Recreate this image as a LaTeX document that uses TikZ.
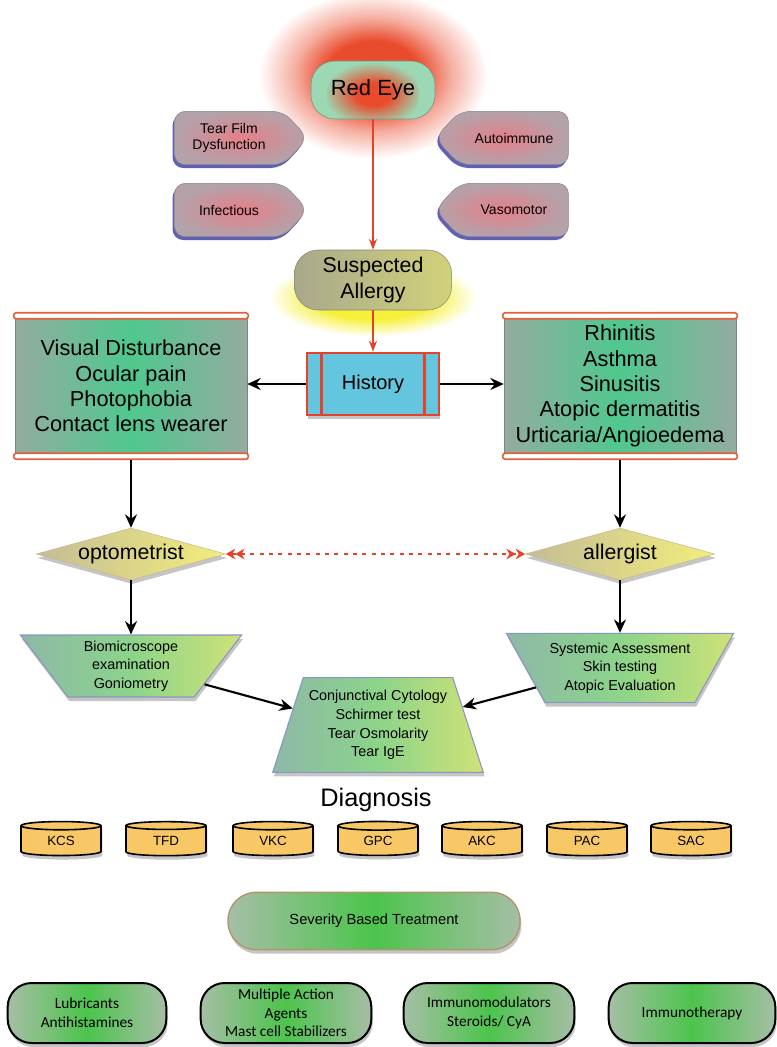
\documentclass[tikz,border=0pt]{standalone}
\usepackage{fontspec}
\setmainfont{Liberation Sans}
\newfontfamily\pillfont{Carlito}
\usetikzlibrary{shapes.geometric, shapes.symbols, shadows, arrows.meta}
\definecolor{mintgreen}{HTML}{9CD8B4}
\definecolor{redglow}{HTML}{E94B2C}
\definecolor{signalpink}{HTML}{E57F88}
\definecolor{signalgray}{HTML}{B4A2AA}
\definecolor{shadowblue}{HTML}{2B2BA0}
\definecolor{suspleft}{HTML}{A8A88C}
\definecolor{suspright}{HTML}{D2D27A}
\definecolor{yellowglow}{HTML}{F6F03A}
\definecolor{histcyan}{HTML}{63C6DE}
\definecolor{histred}{HTML}{E2432A}
\definecolor{boxgreen}{HTML}{4FC88E}
\definecolor{boxedge}{HTML}{94ABA0}
\definecolor{barred}{HTML}{E0603A}
\definecolor{dialeft}{HTML}{C4BC96}
\definecolor{diaright}{HTML}{F2EE7C}
\definecolor{diaedge}{HTML}{C8B890}
\definecolor{trapleft}{HTML}{8DB8A8}
\definecolor{trapmid}{HTML}{8CD48A}
\definecolor{trapright}{HTML}{CFE277}
\definecolor{trapedge}{HTML}{8A96C2}
\definecolor{cylorange}{HTML}{F8C766}
\definecolor{pillgreen}{HTML}{4CC44C}
\definecolor{pilledge}{HTML}{A6BEA6}
\definecolor{sevborder}{HTML}{B0946A}
\pgfdeclareradialshading{redhalo}{\pgfpoint{0bp}{0bp}}{color(0bp)=(redglow); color(9bp)=(redglow); color(15bp)=(redglow!45!white); color(22bp)=(white); color(25bp)=(white); color(50bp)=(white)}
\pgfdeclareradialshading{yellowhalo}{\pgfpoint{0bp}{0bp}}{color(0bp)=(yellowglow); color(12bp)=(yellowglow); color(22bp)=(white); color(25bp)=(white); color(50bp)=(white)}
\pgfdeclareradialshading{redblob}{\pgfpoint{0bp}{0bp}}{color(0bp)=(redglow); color(7bp)=(redglow); color(20bp)=(mintgreen); color(25bp)=(mintgreen); color(50bp)=(mintgreen)}

\begin{document}
\begin{tikzpicture}[x=0.75pt, y=-0.75pt, every node/.style={align=center},
  softshadow/.style={drop shadow={opacity=0.45, shadow xshift=1pt, shadow yshift=-3pt}},
  redeyebox/.style={rectangle, rounded corners=18pt, draw=mintgreen!70!black, fill=mintgreen, minimum width=93pt, minimum height=43.5pt, font=\fontsize{16.5}{20}\selectfont,
    path picture={\shade[shading=redblob] ([yshift=-3pt]path picture bounding box.center) ellipse (46 and 40);}},
  signalbox/.style={signal, signal pointer angle=95, draw=signalgray!80!black, inner color=signalpink, outer color=signalgray, minimum width=100pt, minimum height=40pt, rounded corners=8pt, font=\fontsize{10.5}{12.5}\selectfont,
    drop shadow={fill=shadowblue, opacity=0.75, shadow xshift=-1.5pt, shadow yshift=-2.5pt}},
  suspectbox/.style={rectangle, rounded corners=18pt, draw=suspleft!80!black, left color=suspleft, right color=suspright, minimum width=118pt, minimum height=45pt, font=\fontsize{16}{19.5}\selectfont},
  historybox/.style={rectangle, draw=histred, line width=2.2pt, fill=histcyan, minimum width=99pt, minimum height=46.5pt, font=\fontsize{15}{18}\selectfont, softshadow},
  sidebox/.style={rectangle, draw=boxedge!80!black, left color=boxedge, right color=boxedge, middle color=boxgreen, minimum width=174pt, minimum height=105pt, font=\fontsize{16.3}{19}\selectfont, softshadow},
  barbox/.style={rectangle, draw=barred, fill=white, line width=1.2pt, rounded corners=2pt, minimum width=176pt, minimum height=4.5pt, inner sep=0pt},
  rolediamond/.style={diamond, aspect=3.65, draw=diaedge, left color=dialeft, right color=diaright, minimum width=142pt, minimum height=39pt, inner sep=0pt, font=\fontsize{16}{18}\selectfont, softshadow},
  trapbox/.style={trapezium, trapezium stretches=true, draw=trapedge, line width=0.8pt, left color=trapleft, right color=trapright, middle color=trapmid, font=\fontsize{10.8}{14}\selectfont, softshadow},
  diagcyl/.style={cylinder, shape border rotate=90, aspect=0.3, draw=black, line width=1.2pt, fill=cylorange, minimum width=60pt, minimum height=25.5pt, inner sep=0pt, font=\fontsize{10}{12}\selectfont, softshadow},
  severitybox/.style={rectangle, rounded corners=21pt, draw=sevborder, line width=1pt, left color=pilledge, right color=pilledge, middle color=pillgreen, minimum width=219pt, minimum height=43pt, font=\fontsize{11}{13}\selectfont, softshadow},
  treatpill/.style={rectangle, rounded corners=18pt, draw=black, line width=1.5pt, left color=pilledge, right color=pilledge, middle color=pillgreen, minimum height=45pt, font=\pillfont\fontsize{11.5}{14}\selectfont, softshadow},
  redarrow/.style={draw=histred, line width=2pt, -{Stealth[length=8pt, width=6pt]}},
  blackarrow/.style={line width=1.6pt, -{Stealth[length=10pt, width=9pt]}},
  dotarrow/.style={draw=histred, line width=1.6pt, dash pattern=on 3pt off 4pt, {Stealth[length=7pt, width=8pt] Stealth[length=7pt, width=8pt]}-{Stealth[length=7pt, width=8pt] Stealth[length=7pt, width=8pt]}}]
\useasboundingbox (0,0) rectangle (776,1047);
\fill[white] (0,0) rectangle (776,1047);

% Glows
\shade[shading=redhalo] (373,75) ellipse (130 and 95);
\shade[shading=yellowhalo] (373,298) ellipse (118 and 44);

% Red eye and its causes
\node[redeyebox] (redeye) at (373,90) {Red Eye};
\node[signalbox, signal to=east] (tearfilm) at (229,138) {Tear Film\\Dysfunction};
\node[signalbox, signal to=east] (infect) at (229,210) {Infectious};
\node[signalbox, signal to=west] (autoimm) at (514,138) {Autoimmune};
\node[signalbox, signal to=west] (vasomot) at (514,210) {Vasomotor};

% Suspected allergy and history
\node[suspectbox] (suspect) at (373,280) {Suspected\\Allergy};
\node[historybox] (history) at (373,384) {History};
\draw[histred, line width=2pt] ([xshift=12pt]history.north west) -- ([xshift=12pt]history.south west);
\draw[histred, line width=2pt] ([xshift=-12pt]history.north east) -- ([xshift=-12pt]history.south east);

% Symptom boxes
\node[sidebox] (visual) at (131,386) {Visual Disturbance\\Ocular pain\\Photophobia\\Contact lens wearer};
\node[barbox] (visualtop) at (visual.north) {};
\node[barbox] (visualbot) at (visual.south) {};
\node[sidebox] (atopy) at (620,386) {Rhinitis\\Asthma\\Sinusitis\\Atopic dermatitis\\Urticaria/Angioedema};
\node[barbox] (atopytop) at (atopy.north) {};
\node[barbox] (atopybot) at (atopy.south) {};

% Specialists
\node[rolediamond] (optom) at (131,554) {optometrist};
\node[rolediamond] (allerg) at (620,554) {allergist};

% Examinations
\node[trapbox, shape border rotate=180, trapezium angle=57, minimum width=166pt, minimum height=46.5pt] (biomicro) at (131,666) {Biomicroscope\\examination\\Goniometry};
\node[trapbox, shape border rotate=180, trapezium angle=57, minimum width=161pt, minimum height=52pt] (sysassess) at (620,668) {Systemic Assessment\\Skin testing\\Atopic Evaluation};
\node[trapbox, trapezium angle=69, minimum width=158pt, minimum height=71pt] (conjcyto) at (378,725) {Conjunctival Cytology\\Schirmer test\\Tear Osmolarity\\Tear IgE};

% Diagnosis
\node[font=\fontsize{19}{22}\selectfont] (diagnosis) at (376,800) {Diagnosis};
\foreach \x/\lab/\nm in {61/KCS/kcs, 166/TFD/tfd, 273/VKC/vkc, 378/GPC/gpc, 482/AKC/akc, 587/PAC/pac, 691/SAC/sac}
  \node[diagcyl] (\nm) at (\x,841) {\lab};

% Treatment
\node[severitybox] (severity) at (374,921) {Severity Based Treatment};
\node[treatpill, minimum width=119pt] (lubric) at (87,1013) {Lubricants\\Antihistamines};
\node[treatpill, minimum width=128pt] (multi) at (286,1013) {Multiple Action\\Agents\\Mast cell Stabilizers};
\node[treatpill, minimum width=128pt] (immuno) at (489,1013) {Immunomodulators\\Steroids/ CyA};
\node[treatpill, minimum width=125pt] (immther) at (692,1013) {Immunotherapy};

% Arrows
\draw[redarrow] (redeye) -- (suspect);
\draw[redarrow] (suspect) -- (history);
\draw[blackarrow] (history.west) -- (visual.east |- history.west);
\draw[blackarrow] (history.east) -- (atopy.west |- history.east);
\draw[blackarrow] (visualbot.south) -- (optom.north);
\draw[blackarrow] (atopybot.south) -- (allerg.north);
\draw[dotarrow] (optom.east) -- (allerg.west);
\draw[blackarrow] (optom.south) -- (biomicro.90);
\draw[blackarrow] (allerg.south) -- (sysassess.90);
\draw[blackarrow] (biomicro.-14) -- (conjcyto.169);
\draw[blackarrow] (sysassess.193) -- (conjcyto.12);
\end{tikzpicture}
\end{document}
